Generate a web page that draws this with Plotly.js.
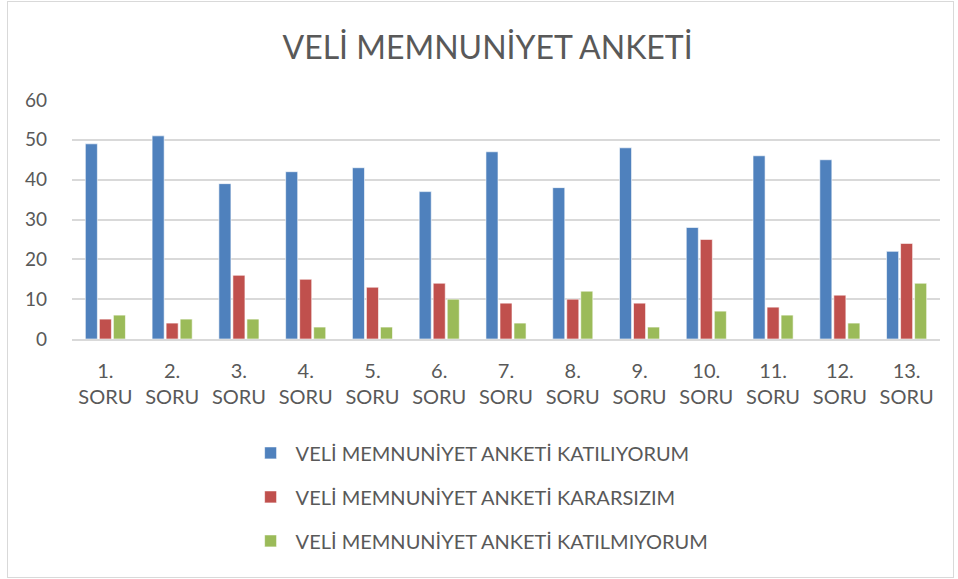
<!DOCTYPE html>
<html>
<head>
<meta charset="utf-8">
<script src="https://cdn.plot.ly/plotly-3.0.1.min.js"></script>
<style>
html,body{margin:0;padding:0;background:#fff;}
#wrap{position:relative;width:958px;height:579px;}
#chart{position:absolute;left:0;top:0;width:958px;height:579px;}
#frame{position:absolute;left:7px;top:1px;width:945px;height:575px;border:1px solid #d9d9d9;pointer-events:none;}
</style>
</head>
<body>
<div id="wrap"><div id="chart"></div><div id="frame"></div></div>
<script>
const categories = ["1.<br>SORU","2.<br>SORU","3.<br>SORU","4.<br>SORU","5.<br>SORU","6.<br>SORU","7.<br>SORU","8.<br>SORU","9.<br>SORU","10.<br>SORU","11.<br>SORU","12.<br>SORU","13.<br>SORU"];
const seriesNames = ["VELİ MEMNUNİYET ANKETİ KATILIYORUM","VELİ MEMNUNİYET ANKETİ KARARSIZIM","VELİ MEMNUNİYET ANKETİ KATILMIYORUM"];
const katiliyorum = [49,51,39,42,43,37,47,38,48,28,46,45,22];
const kararsizim = [5,4,16,15,13,14,9,10,9,25,8,11,24];
const katilmiyorum = [6,5,5,3,3,10,4,12,3,7,6,4,14];
const colors = ["#4f81bd","#c0504d","#9bbb59"];
const titleText = "VELİ MEMNUNİYET ANKETİ";

const font = "Lato, 'Open Sans', sans-serif";
const values = [katiliyorum, kararsizim, katilmiyorum];
const traces = values.map((v,i)=>({
  type:"bar", x:categories, y:v, name:seriesNames[i], legendgroup:"g"+i,
  marker:{color:colors[i], line:{color:"rgba(255,255,255,0.6)", width:1}},
  hoverinfo:"y"
}));

const layout = {
  width:958, height:579,
  margin:{l:72, r:18, t:100, b:240},
  paper_bgcolor:"rgba(0,0,0,0)", plot_bgcolor:"#fff",
  title:{text:titleText, xref:"container", x:0.509, xanchor:"center", y:0.918, yanchor:"middle",
         font:{family:font, size:32, color:"#595959"}},
  barmode:"group", bargap:0.37, bargroupgap:0.14,
  font:{family:font, color:"#595959", size:20},
  xaxis:{showgrid:false, zeroline:false, showline:true, linecolor:"#d9d9d9", linewidth:2,
         ticks:"", tickfont:{family:font, size:20, color:"#595959"}, ticklabelstandoff:13},
  yaxis:{range:[0,60], dtick:10, showgrid:true, gridcolor:"#d9d9d9", gridwidth:2,
         zeroline:false, showline:false, ticks:"", ticklabelstandoff:24,
         tickfont:{family:font, size:19, color:"#595959"}},
  showlegend:true,
  legend:{orientation:"v", x:0.2, xanchor:"left", y:-0.395, yanchor:"top",
          traceorder:"grouped", tracegroupgap:15, itemwidth:40,
          font:{family:font, size:20, color:"#595959"}, bgcolor:"rgba(0,0,0,0)"}
};
Plotly.newPlot("chart", traces, layout, {displayModeBar:false, staticPlot:true});
</script>
</body>
</html>
